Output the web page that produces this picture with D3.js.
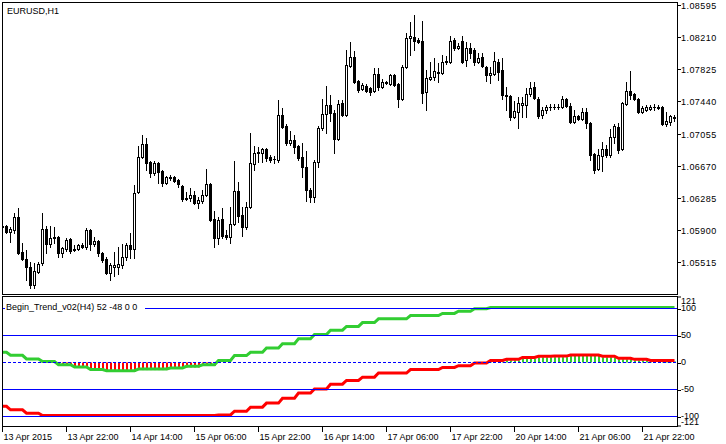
<!DOCTYPE html>
<html><head><meta charset="utf-8">
<script src="https://cdn.jsdelivr.net/npm/d3@7"></script>
<style>
html,body{margin:0;padding:0;background:#fff;}
svg{display:block;}
text{font-family:"Liberation Sans",Arial,sans-serif;font-size:9px;fill:#000;}
</style>
</head><body>
<svg id="c" width="726" height="444"></svg>
<script>
const symbolLabel = "EURUSD,H1";
const indicatorLabel = "Begin_Trend_v02(H4) 52 -48 0 0";

const open = [1.0595,1.0595,1.0588,1.0590,1.0606,1.0564,1.0556,1.0546,1.0524,1.0540,
1.0551,1.0591,1.0573,1.0582,1.0582,1.0563,1.0567,1.0579,1.0567,1.0567,
1.0572,1.0570,1.0590,1.0573,1.0577,1.0563,1.0556,1.0539,1.0546,1.0546,
1.0548,1.0558,1.0572,1.0567,1.0636,1.0678,1.0693,1.0672,1.0658,1.0670,
1.0661,1.0646,1.0654,1.0654,1.0650,1.0643,1.0628,1.0628,1.0632,1.0622,
1.0625,1.0632,1.0645,1.0603,1.0581,1.0603,1.0584,1.0582,1.0597,1.0637,
1.0608,1.0594,1.0618,1.0669,1.0682,1.0682,1.0687,1.0678,1.0675,1.0674,
1.0728,1.0715,1.0694,1.0698,1.0691,1.0678,1.0666,1.0638,1.0630,1.0672,
1.0712,1.0729,1.0740,1.0730,1.0699,1.0742,1.0728,1.0787,1.0797,1.0769,
1.0759,1.0763,1.0760,1.0757,1.0777,1.0761,1.0766,1.0765,1.0776,1.0765,
1.0747,1.0785,1.0820,1.0821,1.0818,1.0816,1.0755,1.0771,1.0773,1.0778,
1.0778,1.0791,1.0791,1.0818,1.0808,1.0816,1.0794,1.0808,1.0806,1.0791,
1.0797,1.0785,1.0776,1.0777,1.0791,1.0782,1.0752,1.0751,1.0725,1.0731,
1.0740,1.0740,1.0753,1.0761,1.0747,1.0728,1.0734,1.0737,1.0737,1.0737,
1.0737,1.0747,1.0739,1.0720,1.0727,1.0723,1.0731,1.0718,1.0681,1.0663,
1.0679,1.0687,1.0680,1.0702,1.0714,1.0687,1.0741,1.0757,1.0753,1.0747,
1.0731,1.0734,1.0735,1.0737,1.0736,1.0737,1.0717,1.0720,1.0724];

const high = [1.0596,1.0596,1.0594,1.0610,1.0617,1.0575,1.0566,1.0552,1.0551,1.0552,
1.0611,1.0595,1.0595,1.0594,1.0583,1.0570,1.0581,1.0581,1.0572,1.0573,
1.0575,1.0593,1.0591,1.0582,1.0578,1.0564,1.0558,1.0551,1.0564,1.0570,
1.0573,1.0575,1.0587,1.0644,1.0691,1.0704,1.0700,1.0673,1.0673,1.0672,
1.0662,1.0655,1.0656,1.0655,1.0651,1.0644,1.0636,1.0640,1.0637,1.0630,
1.0638,1.0663,1.0646,1.0613,1.0606,1.0617,1.0590,1.0618,1.0673,1.0648,
1.0618,1.0624,1.0706,1.0691,1.0690,1.0688,1.0688,1.0680,1.0679,1.0746,
1.0736,1.0717,1.0709,1.0704,1.0692,1.0694,1.0685,1.0640,1.0674,1.0715,
1.0747,1.0763,1.0752,1.0734,1.0746,1.0746,1.0806,1.0815,1.0805,1.0770,
1.0766,1.0765,1.0761,1.0784,1.0784,1.0771,1.0769,1.0777,1.0777,1.0766,
1.0788,1.0826,1.0839,1.0848,1.0820,1.0840,1.0782,1.0791,1.0796,1.0790,
1.0800,1.0799,1.0822,1.0820,1.0814,1.0822,1.0815,1.0814,1.0808,1.0802,
1.0802,1.0787,1.0785,1.0803,1.0795,1.0796,1.0761,1.0752,1.0745,1.0749,
1.0749,1.0760,1.0767,1.0767,1.0749,1.0737,1.0740,1.0741,1.0741,1.0741,
1.0751,1.0748,1.0742,1.0734,1.0728,1.0736,1.0736,1.0720,1.0682,1.0687,
1.0696,1.0692,1.0711,1.0717,1.0718,1.0743,1.0767,1.0780,1.0754,1.0748,
1.0739,1.0740,1.0740,1.0741,1.0740,1.0739,1.0731,1.0728,1.0728];

const low = [1.0593,1.0587,1.0576,1.0587,1.0562,1.0554,1.0530,1.0521,1.0521,1.0539,
1.0548,1.0563,1.0570,1.0575,1.0558,1.0558,1.0565,1.0563,1.0565,1.0566,
1.0569,1.0567,1.0566,1.0571,1.0559,1.0552,1.0538,1.0530,1.0535,1.0538,
1.0545,1.0554,1.0557,1.0557,1.0634,1.0676,1.0662,1.0654,1.0656,1.0646,
1.0643,1.0645,1.0650,1.0648,1.0642,1.0625,1.0626,1.0625,1.0621,1.0616,
1.0622,1.0631,1.0601,1.0570,1.0573,1.0581,1.0579,1.0575,1.0596,1.0600,
1.0583,1.0591,1.0617,1.0662,1.0672,1.0672,1.0673,1.0672,1.0670,1.0672,
1.0712,1.0692,1.0692,1.0682,1.0674,1.0654,1.0625,1.0624,1.0624,1.0666,
1.0710,1.0706,1.0721,1.0682,1.0698,1.0727,1.0727,1.0785,1.0766,1.0755,
1.0758,1.0755,1.0752,1.0755,1.0758,1.0760,1.0765,1.0764,1.0763,1.0737,
1.0746,1.0784,1.0800,1.0806,1.0814,1.0742,1.0734,1.0770,1.0770,1.0767,
1.0777,1.0789,1.0790,1.0806,1.0807,1.0790,1.0786,1.0796,1.0788,1.0790,
1.0785,1.0769,1.0766,1.0776,1.0770,1.0747,1.0734,1.0722,1.0724,1.0712,
1.0725,1.0725,1.0751,1.0747,1.0724,1.0724,1.0730,1.0734,1.0735,1.0735,
1.0736,1.0737,1.0718,1.0718,1.0722,1.0722,1.0712,1.0674,1.0658,1.0662,
1.0661,1.0678,1.0678,1.0694,1.0682,1.0686,1.0740,1.0747,1.0746,1.0730,
1.0730,1.0733,1.0734,1.0734,1.0735,1.0716,1.0715,1.0716,1.0721];

const close = [1.0594,1.0588,1.0591,1.0606,1.0563,1.0556,1.0546,1.0524,1.0541,1.0550,
1.0591,1.0573,1.0581,1.0581,1.0563,1.0569,1.0578,1.0565,1.0566,1.0572,
1.0570,1.0590,1.0573,1.0577,1.0563,1.0554,1.0539,1.0548,1.0548,1.0550,
1.0558,1.0572,1.0567,1.0634,1.0678,1.0693,1.0670,1.0658,1.0670,1.0660,
1.0646,1.0654,1.0652,1.0649,1.0645,1.0627,1.0627,1.0632,1.0622,1.0626,
1.0632,1.0645,1.0602,1.0581,1.0602,1.0583,1.0582,1.0597,1.0637,1.0607,
1.0594,1.0618,1.0670,1.0682,1.0684,1.0687,1.0676,1.0674,1.0675,1.0728,
1.0714,1.0694,1.0698,1.0690,1.0676,1.0666,1.0638,1.0630,1.0672,1.0712,
1.0729,1.0740,1.0730,1.0699,1.0741,1.0728,1.0788,1.0797,1.0767,1.0758,
1.0764,1.0757,1.0755,1.0777,1.0761,1.0767,1.0767,1.0776,1.0764,1.0747,
1.0785,1.0820,1.0822,1.0816,1.0815,1.0754,1.0772,1.0773,1.0781,1.0779,
1.0791,1.0792,1.0816,1.0808,1.0811,1.0791,1.0808,1.0802,1.0791,1.0796,
1.0787,1.0776,1.0778,1.0793,1.0779,1.0752,1.0751,1.0725,1.0733,1.0742,
1.0742,1.0753,1.0760,1.0748,1.0727,1.0734,1.0737,1.0737,1.0737,1.0737,
1.0747,1.0739,1.0720,1.0727,1.0723,1.0731,1.0718,1.0680,1.0662,1.0680,
1.0687,1.0680,1.0702,1.0715,1.0686,1.0742,1.0757,1.0752,1.0747,1.0731,
1.0736,1.0737,1.0737,1.0737,1.0737,1.0717,1.0721,1.0727,1.0725];

// H4 indicator buffers (one value per H4 bar)
const bullTrend = [17,11.5,4.7,0,-6,-10,-15,-17,-17,-14,-14,-12,-9,-6,2,11,17,25,33,42,50,58,65,72,79,79,85,85,89,93,97.6,
100,100,100,100,100,100,100,100,100,100,100,100];
const bearTrend = [-83,-89.5,-95.7,-100,-100,-100,-100,-100,-100,-100,-100,-100,-100,-100,-99,-92,-84.5,-77,-68,-58.5,-51,-42,-35,-29,-21.4,-21.4,-15,-15,-11,-7.7,-2.7,
2,4,7.5,9.7,10,12,12,9.7,6,4,2,2];

const priceTicks = [1.08595,1.08210,1.07825,1.07440,1.07055,1.06670,1.06285,1.05900,1.05515];
const timeTickIndex = [0,16,32,48,64,80,96,112,128,144,160];
const timeTickLabels = ["13 Apr 2015","13 Apr 22:00","14 Apr 14:00","15 Apr 06:00","15 Apr 22:00","16 Apr 14:00","17 Apr 06:00","17 Apr 22:00","20 Apr 14:00","21 Apr 06:00","21 Apr 22:00"];
const indLevels = [100,50,-50,-100];
const indTickValues = [121,100,50,0,-50,-100,-121];
const indTickLabelPos = [300.3,307.5,335,362,389,416,422];

const svg = d3.select("#c");
const n = open.length;
const x = d3.scaleLinear().domain([0, n-1]).range([2.5, 2.5 + 4*(n-1)]);
const y = d3.scaleLinear().domain([1.05515, 1.08595]).range([262.3, 5.0]);
const yi = d3.scaleLinear().domain([-100, 100]).range([416.5, 308.5]);
const h4 = i => Math.floor((i + 2) / 4);

// main panel
const main = svg.append("g");
main.append("clipPath").attr("id","cm").append("rect").attr("x",3).attr("y",3).attr("width",674).attr("height",291);
const cg = main.append("g").attr("clip-path","url(#cm)");
const bars = d3.range(n).map(i => ({i, o:open[i], h:high[i], l:low[i], c:close[i]}));
cg.selectAll("rect.wick").data(bars).join("rect").attr("class","wick")
  .attr("x", d => x(d.i) - 0.5)
  .attr("y", d => Math.round(y(d.h)))
  .attr("width", 1)
  .attr("height", d => Math.round(y(d.l)) - Math.round(y(d.h)) + 1)
  .attr("fill", "#000");
bars.forEach(d => {
  const top = Math.round(y(Math.max(d.o, d.c)));
  const bot = Math.round(y(Math.min(d.o, d.c)));
  if (d.c > d.o && bot - top >= 1) {
    cg.append("rect").attr("x", x(d.i) - 1).attr("y", top + 0.5)
      .attr("width", 2).attr("height", bot - top)
      .attr("fill", "#fff").attr("stroke", "#000").attr("stroke-width", 1);
  } else {
    cg.append("rect").attr("x", x(d.i) - 1.5).attr("y", top)
      .attr("width", 3).attr("height", Math.max(1, bot - top + 1)).attr("fill", "#000");
  }
});

// indicator panel
const ind = svg.append("g");
ind.append("clipPath").attr("id","ci").append("rect").attr("x",3).attr("y",297).attr("width",674).attr("height",129);
const ig = ind.append("g").attr("clip-path","url(#ci)");
const histData = d3.range(n).map(i => {
  const g = bullTrend[h4(i)], r = bearTrend[h4(i)];
  if (g < 0 && r < 0) return {i, v: Math.max(g, r), col: g > r ? "#ff0000" : "#32cd32"};
  if (g > 0 && r > 0) return {i, v: Math.min(g, r), col: g > r ? "#32cd32" : "#ff0000"};
  return {i, v: 0, col: "none"};
}).filter(d => d.v !== 0);
ig.selectAll("rect.hist").data(histData).join("rect").attr("class","hist")
  .attr("x", d => x(d.i) - 0.5)
  .attr("y", d => Math.min(yi(0), yi(d.v)))
  .attr("width", 2)
  .attr("height", d => Math.abs(yi(d.v) - yi(0)))
  .attr("fill", d => d.col);

const lineFor = arr => d3.line().x(i => x(i)).y(i => yi(arr[h4(i)]) - 1)(d3.range(n));
ig.append("path").attr("d", lineFor(bullTrend)).attr("fill","none").attr("stroke","#32cd32").attr("stroke-width",3);
ig.append("path").attr("d", lineFor(bearTrend)).attr("fill","none").attr("stroke","#ff0000").attr("stroke-width",3);

// levels
indLevels.forEach(v => {
  ind.append("line").attr("x1",3).attr("x2",677).attr("y1",yi(v)).attr("y2",yi(v))
    .attr("stroke","#0000ff").attr("stroke-width",1);
});
ind.append("line").attr("x1",3).attr("x2",677).attr("y1",yi(0)).attr("y2",yi(0))
  .attr("stroke","#0000ff").attr("stroke-width",1).attr("stroke-dasharray","3,2");

// indicator label with white box
ind.append("rect").attr("x",5).attr("y",300).attr("width",140).attr("height",12).attr("fill","#fff");
ind.append("text").attr("x",6).attr("y",309.5).text(indicatorLabel);

// frames
const fr = svg.append("g").attr("stroke","#000").attr("stroke-width",1).attr("fill","none").attr("shape-rendering","crispEdges");
fr.append("rect").attr("x",2.5).attr("y",2.5).attr("width",675).attr("height",292);
fr.append("rect").attr("x",2.5).attr("y",296.5).attr("width",675).attr("height",130);

// title
svg.append("text").attr("x",7).attr("y",14).text(symbolLabel);

// price axis
priceTicks.forEach(p => {
  const yy = Math.round(y(p)) + 0.5;
  svg.append("line").attr("x1",677).attr("x2",681).attr("y1",yy).attr("y2",yy).attr("stroke","#000");
  svg.append("text").attr("x",681).attr("y",yy + 3.3).attr("letter-spacing","0.45px").text(p.toFixed(5));
});

// indicator axis
indTickValues.forEach((v, k) => {
  const yy = v === 121 ? 297 : v === -121 ? 426 : Math.round(yi(v)) + 0.5;
  svg.append("line").attr("x1",677).attr("x2",681).attr("y1",yy).attr("y2",yy).attr("stroke","#000");
  svg.append("text").attr("x",681).attr("y",indTickLabelPos[k] + 3.3).text(String(v));
});

// time axis
timeTickIndex.forEach((ti, k) => {
  const xx = x(ti);
  svg.append("line").attr("x1",xx).attr("x2",xx).attr("y1",426).attr("y2",432).attr("stroke","#000");
  svg.append("text").attr("x",xx + 1).attr("y",439.5).text(timeTickLabels[k]);
});
</script>
</body></html>
